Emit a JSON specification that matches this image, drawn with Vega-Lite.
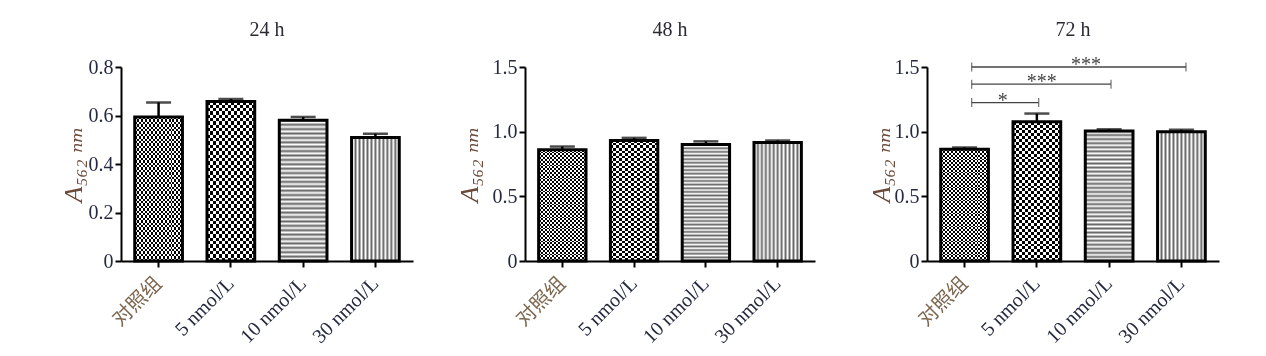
{
  "$schema": "https://vega.github.io/schema/vega-lite/v6.json",
  "background": "white",
  "padding": {"left": 60, "top": 20, "right": 10, "bottom": 4},
  "config": {
    "view": {"stroke": null},
    "font": "Liberation Serif",
    "axis": {
      "grid": false,
      "domainColor": "#000",
      "domainWidth": 2,
      "tickColor": "#000",
      "tickWidth": 2,
      "tickSize": 6,
      "labelFont": "Liberation Serif, Noto Sans CJK SC",
      "labelFontSize": 20,
      "labelColor": "#252a40",
      "titleFont": "Liberation Serif, DejaVu Serif, DejaVu Sans",
      "titleFontSize": 26,
      "titleFontWeight": "normal",
      "titleFontStyle": "italic",
      "titleColor": "#6b4a3a"
    },
    "title": {"font": "Liberation Serif", "fontSize": 20, "fontWeight": "normal", "color": "#2a2a35"}
  },
  "params": [
    {"name": "gFineV", "value": {"gradient": "linear", "x1": 0, "y1": 0, "x2": 1, "y2": 0, "stops": [
      {"offset": 0, "color": "#000"}, {"offset": 0.0417, "color": "#000"}, {"offset": 0.0417, "color": "#fff"}, {"offset": 0.0833, "color": "#fff"},
      {"offset": 0.0833, "color": "#000"}, {"offset": 0.125, "color": "#000"}, {"offset": 0.125, "color": "#fff"}, {"offset": 0.1667, "color": "#fff"},
      {"offset": 0.1667, "color": "#000"}, {"offset": 0.2083, "color": "#000"}, {"offset": 0.2083, "color": "#fff"}, {"offset": 0.25, "color": "#fff"},
      {"offset": 0.25, "color": "#000"}, {"offset": 0.2917, "color": "#000"}, {"offset": 0.2917, "color": "#fff"}, {"offset": 0.3333, "color": "#fff"},
      {"offset": 0.3333, "color": "#000"}, {"offset": 0.375, "color": "#000"}, {"offset": 0.375, "color": "#fff"}, {"offset": 0.4167, "color": "#fff"},
      {"offset": 0.4167, "color": "#000"}, {"offset": 0.4583, "color": "#000"}, {"offset": 0.4583, "color": "#fff"}, {"offset": 0.5, "color": "#fff"},
      {"offset": 0.5, "color": "#000"}, {"offset": 0.5417, "color": "#000"}, {"offset": 0.5417, "color": "#fff"}, {"offset": 0.5833, "color": "#fff"},
      {"offset": 0.5833, "color": "#000"}, {"offset": 0.625, "color": "#000"}, {"offset": 0.625, "color": "#fff"}, {"offset": 0.6667, "color": "#fff"},
      {"offset": 0.6667, "color": "#000"}, {"offset": 0.7083, "color": "#000"}, {"offset": 0.7083, "color": "#fff"}, {"offset": 0.75, "color": "#fff"},
      {"offset": 0.75, "color": "#000"}, {"offset": 0.7917, "color": "#000"}, {"offset": 0.7917, "color": "#fff"}, {"offset": 0.8333, "color": "#fff"},
      {"offset": 0.8333, "color": "#000"}, {"offset": 0.875, "color": "#000"}, {"offset": 0.875, "color": "#fff"}, {"offset": 0.9167, "color": "#fff"},
      {"offset": 0.9167, "color": "#000"}, {"offset": 0.9583, "color": "#000"}, {"offset": 0.9583, "color": "#fff"}, {"offset": 1, "color": "#fff"}]}},
    {"name": "gCoarseV", "value": {"gradient": "linear", "x1": 0, "y1": 0, "x2": 1, "y2": 0, "stops": [
      {"offset": 0, "color": "#000"}, {"offset": 0.0625, "color": "#000"}, {"offset": 0.0625, "color": "#fff"}, {"offset": 0.125, "color": "#fff"},
      {"offset": 0.125, "color": "#000"}, {"offset": 0.1875, "color": "#000"}, {"offset": 0.1875, "color": "#fff"}, {"offset": 0.25, "color": "#fff"},
      {"offset": 0.25, "color": "#000"}, {"offset": 0.3125, "color": "#000"}, {"offset": 0.3125, "color": "#fff"}, {"offset": 0.375, "color": "#fff"},
      {"offset": 0.375, "color": "#000"}, {"offset": 0.4375, "color": "#000"}, {"offset": 0.4375, "color": "#fff"}, {"offset": 0.5, "color": "#fff"},
      {"offset": 0.5, "color": "#000"}, {"offset": 0.5625, "color": "#000"}, {"offset": 0.5625, "color": "#fff"}, {"offset": 0.625, "color": "#fff"},
      {"offset": 0.625, "color": "#000"}, {"offset": 0.6875, "color": "#000"}, {"offset": 0.6875, "color": "#fff"}, {"offset": 0.75, "color": "#fff"},
      {"offset": 0.75, "color": "#000"}, {"offset": 0.8125, "color": "#000"}, {"offset": 0.8125, "color": "#fff"}, {"offset": 0.875, "color": "#fff"},
      {"offset": 0.875, "color": "#000"}, {"offset": 0.9375, "color": "#000"}, {"offset": 0.9375, "color": "#fff"}, {"offset": 1, "color": "#fff"}]}},
    {"name": "gLineV", "value": {"gradient": "linear", "x1": 0, "y1": 0, "x2": 1, "y2": 0, "stops": [
      {"offset": 0, "color": "#666"}, {"offset": 0.0417, "color": "#fff"}, {"offset": 0.0833, "color": "#666"}, {"offset": 0.125, "color": "#fff"}, {"offset": 0.1667, "color": "#666"}, {"offset": 0.2083, "color": "#fff"}, {"offset": 0.25, "color": "#666"}, {"offset": 0.2917, "color": "#fff"}, {"offset": 0.3333, "color": "#666"}, {"offset": 0.375, "color": "#fff"}, {"offset": 0.4167, "color": "#666"}, {"offset": 0.4583, "color": "#fff"}, {"offset": 0.5, "color": "#666"}, {"offset": 0.5417, "color": "#fff"}, {"offset": 0.5833, "color": "#666"}, {"offset": 0.625, "color": "#fff"}, {"offset": 0.6667, "color": "#666"}, {"offset": 0.7083, "color": "#fff"}, {"offset": 0.75, "color": "#666"}, {"offset": 0.7917, "color": "#fff"}, {"offset": 0.8333, "color": "#666"}, {"offset": 0.875, "color": "#fff"}, {"offset": 0.9167, "color": "#666"}, {"offset": 0.9583, "color": "#fff"}, {"offset": 1, "color": "#666"}]}},
    {"name": "gFineH", "value": {"gradient": "linear", "x1": 0, "y1": 0, "x2": 0, "y2": 1, "stops": [
      {"offset": 0, "color": "#000"}, {"offset": 0.0167, "color": "#000"}, {"offset": 0.0167, "color": "#fff"}, {"offset": 0.0333, "color": "#fff"},
      {"offset": 0.0333, "color": "#000"}, {"offset": 0.05, "color": "#000"}, {"offset": 0.05, "color": "#fff"}, {"offset": 0.0667, "color": "#fff"},
      {"offset": 0.0667, "color": "#000"}, {"offset": 0.0833, "color": "#000"}, {"offset": 0.0833, "color": "#fff"}, {"offset": 0.1, "color": "#fff"},
      {"offset": 0.1, "color": "#000"}, {"offset": 0.1167, "color": "#000"}, {"offset": 0.1167, "color": "#fff"}, {"offset": 0.1333, "color": "#fff"},
      {"offset": 0.1333, "color": "#000"}, {"offset": 0.15, "color": "#000"}, {"offset": 0.15, "color": "#fff"}, {"offset": 0.1667, "color": "#fff"},
      {"offset": 0.1667, "color": "#000"}, {"offset": 0.1833, "color": "#000"}, {"offset": 0.1833, "color": "#fff"}, {"offset": 0.2, "color": "#fff"},
      {"offset": 0.2, "color": "#000"}, {"offset": 0.2167, "color": "#000"}, {"offset": 0.2167, "color": "#fff"}, {"offset": 0.2333, "color": "#fff"},
      {"offset": 0.2333, "color": "#000"}, {"offset": 0.25, "color": "#000"}, {"offset": 0.25, "color": "#fff"}, {"offset": 0.2667, "color": "#fff"},
      {"offset": 0.2667, "color": "#000"}, {"offset": 0.2833, "color": "#000"}, {"offset": 0.2833, "color": "#fff"}, {"offset": 0.3, "color": "#fff"},
      {"offset": 0.3, "color": "#000"}, {"offset": 0.3167, "color": "#000"}, {"offset": 0.3167, "color": "#fff"}, {"offset": 0.3333, "color": "#fff"},
      {"offset": 0.3333, "color": "#000"}, {"offset": 0.35, "color": "#000"}, {"offset": 0.35, "color": "#fff"}, {"offset": 0.3667, "color": "#fff"},
      {"offset": 0.3667, "color": "#000"}, {"offset": 0.3833, "color": "#000"}, {"offset": 0.3833, "color": "#fff"}, {"offset": 0.4, "color": "#fff"},
      {"offset": 0.4, "color": "#000"}, {"offset": 0.4167, "color": "#000"}, {"offset": 0.4167, "color": "#fff"}, {"offset": 0.4333, "color": "#fff"},
      {"offset": 0.4333, "color": "#000"}, {"offset": 0.45, "color": "#000"}, {"offset": 0.45, "color": "#fff"}, {"offset": 0.4667, "color": "#fff"},
      {"offset": 0.4667, "color": "#000"}, {"offset": 0.4833, "color": "#000"}, {"offset": 0.4833, "color": "#fff"}, {"offset": 0.5, "color": "#fff"},
      {"offset": 0.5, "color": "#000"}, {"offset": 0.5167, "color": "#000"}, {"offset": 0.5167, "color": "#fff"}, {"offset": 0.5333, "color": "#fff"},
      {"offset": 0.5333, "color": "#000"}, {"offset": 0.55, "color": "#000"}, {"offset": 0.55, "color": "#fff"}, {"offset": 0.5667, "color": "#fff"},
      {"offset": 0.5667, "color": "#000"}, {"offset": 0.5833, "color": "#000"}, {"offset": 0.5833, "color": "#fff"}, {"offset": 0.6, "color": "#fff"},
      {"offset": 0.6, "color": "#000"}, {"offset": 0.6167, "color": "#000"}, {"offset": 0.6167, "color": "#fff"}, {"offset": 0.6333, "color": "#fff"},
      {"offset": 0.6333, "color": "#000"}, {"offset": 0.65, "color": "#000"}, {"offset": 0.65, "color": "#fff"}, {"offset": 0.6667, "color": "#fff"},
      {"offset": 0.6667, "color": "#000"}, {"offset": 0.6833, "color": "#000"}, {"offset": 0.6833, "color": "#fff"}, {"offset": 0.7, "color": "#fff"},
      {"offset": 0.7, "color": "#000"}, {"offset": 0.7167, "color": "#000"}, {"offset": 0.7167, "color": "#fff"}, {"offset": 0.7333, "color": "#fff"},
      {"offset": 0.7333, "color": "#000"}, {"offset": 0.75, "color": "#000"}, {"offset": 0.75, "color": "#fff"}, {"offset": 0.7667, "color": "#fff"},
      {"offset": 0.7667, "color": "#000"}, {"offset": 0.7833, "color": "#000"}, {"offset": 0.7833, "color": "#fff"}, {"offset": 0.8, "color": "#fff"},
      {"offset": 0.8, "color": "#000"}, {"offset": 0.8167, "color": "#000"}, {"offset": 0.8167, "color": "#fff"}, {"offset": 0.8333, "color": "#fff"},
      {"offset": 0.8333, "color": "#000"}, {"offset": 0.85, "color": "#000"}, {"offset": 0.85, "color": "#fff"}, {"offset": 0.8667, "color": "#fff"},
      {"offset": 0.8667, "color": "#000"}, {"offset": 0.8833, "color": "#000"}, {"offset": 0.8833, "color": "#fff"}, {"offset": 0.9, "color": "#fff"},
      {"offset": 0.9, "color": "#000"}, {"offset": 0.9167, "color": "#000"}, {"offset": 0.9167, "color": "#fff"}, {"offset": 0.9333, "color": "#fff"},
      {"offset": 0.9333, "color": "#000"}, {"offset": 0.95, "color": "#000"}, {"offset": 0.95, "color": "#fff"}, {"offset": 0.9667, "color": "#fff"},
      {"offset": 0.9667, "color": "#000"}, {"offset": 0.9833, "color": "#000"}, {"offset": 0.9833, "color": "#fff"}, {"offset": 1, "color": "#fff"}]}},
    {"name": "gCoarseH", "value": {"gradient": "linear", "x1": 0, "y1": 0, "x2": 0, "y2": 1, "stops": [
      {"offset": 0, "color": "#000"}, {"offset": 0.0208, "color": "#000"}, {"offset": 0.0208, "color": "#fff"}, {"offset": 0.0417, "color": "#fff"},
      {"offset": 0.0417, "color": "#000"}, {"offset": 0.0625, "color": "#000"}, {"offset": 0.0625, "color": "#fff"}, {"offset": 0.0833, "color": "#fff"},
      {"offset": 0.0833, "color": "#000"}, {"offset": 0.1042, "color": "#000"}, {"offset": 0.1042, "color": "#fff"}, {"offset": 0.125, "color": "#fff"},
      {"offset": 0.125, "color": "#000"}, {"offset": 0.1458, "color": "#000"}, {"offset": 0.1458, "color": "#fff"}, {"offset": 0.1667, "color": "#fff"},
      {"offset": 0.1667, "color": "#000"}, {"offset": 0.1875, "color": "#000"}, {"offset": 0.1875, "color": "#fff"}, {"offset": 0.2083, "color": "#fff"},
      {"offset": 0.2083, "color": "#000"}, {"offset": 0.2292, "color": "#000"}, {"offset": 0.2292, "color": "#fff"}, {"offset": 0.25, "color": "#fff"},
      {"offset": 0.25, "color": "#000"}, {"offset": 0.2708, "color": "#000"}, {"offset": 0.2708, "color": "#fff"}, {"offset": 0.2917, "color": "#fff"},
      {"offset": 0.2917, "color": "#000"}, {"offset": 0.3125, "color": "#000"}, {"offset": 0.3125, "color": "#fff"}, {"offset": 0.3333, "color": "#fff"},
      {"offset": 0.3333, "color": "#000"}, {"offset": 0.3542, "color": "#000"}, {"offset": 0.3542, "color": "#fff"}, {"offset": 0.375, "color": "#fff"},
      {"offset": 0.375, "color": "#000"}, {"offset": 0.3958, "color": "#000"}, {"offset": 0.3958, "color": "#fff"}, {"offset": 0.4167, "color": "#fff"},
      {"offset": 0.4167, "color": "#000"}, {"offset": 0.4375, "color": "#000"}, {"offset": 0.4375, "color": "#fff"}, {"offset": 0.4583, "color": "#fff"},
      {"offset": 0.4583, "color": "#000"}, {"offset": 0.4792, "color": "#000"}, {"offset": 0.4792, "color": "#fff"}, {"offset": 0.5, "color": "#fff"},
      {"offset": 0.5, "color": "#000"}, {"offset": 0.5208, "color": "#000"}, {"offset": 0.5208, "color": "#fff"}, {"offset": 0.5417, "color": "#fff"},
      {"offset": 0.5417, "color": "#000"}, {"offset": 0.5625, "color": "#000"}, {"offset": 0.5625, "color": "#fff"}, {"offset": 0.5833, "color": "#fff"},
      {"offset": 0.5833, "color": "#000"}, {"offset": 0.6042, "color": "#000"}, {"offset": 0.6042, "color": "#fff"}, {"offset": 0.625, "color": "#fff"},
      {"offset": 0.625, "color": "#000"}, {"offset": 0.6458, "color": "#000"}, {"offset": 0.6458, "color": "#fff"}, {"offset": 0.6667, "color": "#fff"},
      {"offset": 0.6667, "color": "#000"}, {"offset": 0.6875, "color": "#000"}, {"offset": 0.6875, "color": "#fff"}, {"offset": 0.7083, "color": "#fff"},
      {"offset": 0.7083, "color": "#000"}, {"offset": 0.7292, "color": "#000"}, {"offset": 0.7292, "color": "#fff"}, {"offset": 0.75, "color": "#fff"},
      {"offset": 0.75, "color": "#000"}, {"offset": 0.7708, "color": "#000"}, {"offset": 0.7708, "color": "#fff"}, {"offset": 0.7917, "color": "#fff"},
      {"offset": 0.7917, "color": "#000"}, {"offset": 0.8125, "color": "#000"}, {"offset": 0.8125, "color": "#fff"}, {"offset": 0.8333, "color": "#fff"},
      {"offset": 0.8333, "color": "#000"}, {"offset": 0.8542, "color": "#000"}, {"offset": 0.8542, "color": "#fff"}, {"offset": 0.875, "color": "#fff"},
      {"offset": 0.875, "color": "#000"}, {"offset": 0.8958, "color": "#000"}, {"offset": 0.8958, "color": "#fff"}, {"offset": 0.9167, "color": "#fff"},
      {"offset": 0.9167, "color": "#000"}, {"offset": 0.9375, "color": "#000"}, {"offset": 0.9375, "color": "#fff"}, {"offset": 0.9583, "color": "#fff"},
      {"offset": 0.9583, "color": "#000"}, {"offset": 0.9792, "color": "#000"}, {"offset": 0.9792, "color": "#fff"}, {"offset": 1, "color": "#fff"}]}},
    {"name": "gLineH", "value": {"gradient": "linear", "x1": 0, "y1": 0, "x2": 0, "y2": 1, "stops": [
      {"offset": 0, "color": "#666"}, {"offset": 0.0156, "color": "#fff"}, {"offset": 0.0313, "color": "#666"}, {"offset": 0.0469, "color": "#fff"}, {"offset": 0.0625, "color": "#666"}, {"offset": 0.0781, "color": "#fff"}, {"offset": 0.0938, "color": "#666"}, {"offset": 0.1094, "color": "#fff"}, {"offset": 0.125, "color": "#666"}, {"offset": 0.1406, "color": "#fff"}, {"offset": 0.1563, "color": "#666"}, {"offset": 0.1719, "color": "#fff"}, {"offset": 0.1875, "color": "#666"}, {"offset": 0.2031, "color": "#fff"}, {"offset": 0.2188, "color": "#666"}, {"offset": 0.2344, "color": "#fff"}, {"offset": 0.25, "color": "#666"}, {"offset": 0.2656, "color": "#fff"}, {"offset": 0.2813, "color": "#666"}, {"offset": 0.2969, "color": "#fff"}, {"offset": 0.3125, "color": "#666"}, {"offset": 0.3281, "color": "#fff"}, {"offset": 0.3438, "color": "#666"}, {"offset": 0.3594, "color": "#fff"}, {"offset": 0.375, "color": "#666"}, {"offset": 0.3906, "color": "#fff"}, {"offset": 0.4063, "color": "#666"}, {"offset": 0.4219, "color": "#fff"}, {"offset": 0.4375, "color": "#666"}, {"offset": 0.4531, "color": "#fff"}, {"offset": 0.4688, "color": "#666"}, {"offset": 0.4844, "color": "#fff"}, {"offset": 0.5, "color": "#666"}, {"offset": 0.5156, "color": "#fff"}, {"offset": 0.5313, "color": "#666"}, {"offset": 0.5469, "color": "#fff"}, {"offset": 0.5625, "color": "#666"}, {"offset": 0.5781, "color": "#fff"}, {"offset": 0.5938, "color": "#666"}, {"offset": 0.6094, "color": "#fff"}, {"offset": 0.625, "color": "#666"}, {"offset": 0.6406, "color": "#fff"}, {"offset": 0.6563, "color": "#666"}, {"offset": 0.6719, "color": "#fff"}, {"offset": 0.6875, "color": "#666"}, {"offset": 0.7031, "color": "#fff"}, {"offset": 0.7188, "color": "#666"}, {"offset": 0.7344, "color": "#fff"}, {"offset": 0.75, "color": "#666"}, {"offset": 0.7656, "color": "#fff"}, {"offset": 0.7813, "color": "#666"}, {"offset": 0.7969, "color": "#fff"}, {"offset": 0.8125, "color": "#666"}, {"offset": 0.8281, "color": "#fff"}, {"offset": 0.8438, "color": "#666"}, {"offset": 0.8594, "color": "#fff"}, {"offset": 0.875, "color": "#666"}, {"offset": 0.8906, "color": "#fff"}, {"offset": 0.9063, "color": "#666"}, {"offset": 0.9219, "color": "#fff"}, {"offset": 0.9375, "color": "#666"}, {"offset": 0.9531, "color": "#fff"}, {"offset": 0.9688, "color": "#666"}, {"offset": 0.9844, "color": "#fff"}, {"offset": 1, "color": "#666"}]}}
  ],
  "datasets": {
    "d24": [
      {"g": "对照组", "mean": 0.594, "upper": 0.654},
      {"g": "5 nmol/L", "mean": 0.658, "upper": 0.668},
      {"g": "10 nmol/L", "mean": 0.58, "upper": 0.594},
      {"g": "30 nmol/L", "mean": 0.509, "upper": 0.525}
    ],
    "d48": [
      {"g": "对照组", "mean": 0.86, "upper": 0.885},
      {"g": "5 nmol/L", "mean": 0.932, "upper": 0.952},
      {"g": "10 nmol/L", "mean": 0.9, "upper": 0.925},
      {"g": "30 nmol/L", "mean": 0.917, "upper": 0.932}
    ],
    "d72": [
      {"g": "对照组", "mean": 0.864, "upper": 0.878},
      {"g": "5 nmol/L", "mean": 1.077, "upper": 1.14},
      {"g": "10 nmol/L", "mean": 1.005, "upper": 1.018},
      {"g": "30 nmol/L", "mean": 1.0, "upper": 1.015}
    ],
    "sig": [
      {"i0": 0.098, "i1": 1.025, "y": 1.225, "mid": 0.527, "lab": "*"},
      {"i0": 0.098, "i1": 2.026, "y": 1.367, "mid": 1.067, "lab": "***"},
      {"i0": 0.098, "i1": 3.063, "y": 1.5, "mid": 1.68, "lab": "***"}
    ]
  },
  "bounds": "flush",
  "spacing": 112,
  "hconcat": [
    {
      "width": 292,
      "height": 194,
      "title": {"text": "24 h", "offset": 17},
      "data": {"name": "d24"},
      "encoding": {
        "x": {"field": "g", "type": "nominal", "sort": null, "scale": {"paddingInner": 0.34, "paddingOuter": 0.19},
          "axis": {"title": null, "labelAngle": -45, "labelPadding": 6, "labelOffset": -7, "labelColor": {"condition": {"test": "datum.value === '对照组'", "value": "#7d6750"}, "value": "#252a40"}}},
        "y": {"field": "mean", "type": "quantitative", "scale": {"domain": [0, 0.8], "nice": false},
          "axis": {"title": "A₅₆₂ ₙₘ", "values": [0, 0.2, 0.4, 0.6, 0.8], "labelExpr": "datum.value === 0 ? '0' : format(datum.value, '.1f')", "labelPadding": 2, "titlePadding": 2}}
      },
      "layer": [
        {"mark": {"type": "bar", "fill": {"expr": "datum.g === '对照组' ? gFineV : datum.g === '5 nmol/L' ? gCoarseV : datum.g === '10 nmol/L' ? gLineH : gLineV"}}},
        {"mark": {"type": "bar", "blend": "difference", "fill": {"expr": "datum.g === '对照组' ? gFineH : datum.g === '5 nmol/L' ? gCoarseH : '#000'"}}},
        {"mark": {"type": "bar", "fillOpacity": 0, "stroke": "#000", "strokeWidth": 3}},
        {"mark": {"type": "rule", "color": "#000", "strokeWidth": 2.5}, "encoding": {"y2": {"field": "upper"}}},
        {"mark": {"type": "tick", "orient": "horizontal", "color": "#000", "size": 25, "thickness": 2.5}, "encoding": {"y": {"field": "upper", "type": "quantitative", "title": "A₅₆₂ ₙₘ"}}}
      ]
    },
    {
      "width": 290,
      "height": 194,
      "title": {"text": "48 h", "offset": 17},
      "data": {"name": "d48"},
      "encoding": {
        "x": {"field": "g", "type": "nominal", "sort": null, "scale": {"paddingInner": 0.34, "paddingOuter": 0.19},
          "axis": {"title": null, "labelAngle": -45, "labelPadding": 6, "labelOffset": -7, "labelColor": {"condition": {"test": "datum.value === '对照组'", "value": "#7d6750"}, "value": "#252a40"}}},
        "y": {"field": "mean", "type": "quantitative", "scale": {"domain": [0, 1.5], "nice": false},
          "axis": {"title": "A₅₆₂ ₙₘ", "values": [0, 0.5, 1.0, 1.5], "labelExpr": "datum.value === 0 ? '0' : format(datum.value, '.1f')", "labelPadding": 2, "titlePadding": 10}}
      },
      "layer": [
        {"mark": {"type": "bar", "fill": {"expr": "datum.g === '对照组' ? gFineV : datum.g === '5 nmol/L' ? gCoarseV : datum.g === '10 nmol/L' ? gLineH : gLineV"}}},
        {"mark": {"type": "bar", "blend": "difference", "fill": {"expr": "datum.g === '对照组' ? gFineH : datum.g === '5 nmol/L' ? gCoarseH : '#000'"}}},
        {"mark": {"type": "bar", "fillOpacity": 0, "stroke": "#000", "strokeWidth": 3}},
        {"mark": {"type": "rule", "color": "#000", "strokeWidth": 2.5}, "encoding": {"y2": {"field": "upper"}}},
        {"mark": {"type": "tick", "orient": "horizontal", "color": "#000", "size": 25, "thickness": 2.5}, "encoding": {"y": {"field": "upper", "type": "quantitative", "title": "A₅₆₂ ₙₘ"}}}
      ]
    },
    {
      "width": 292,
      "height": 194,
      "title": {"text": "72 h", "offset": 15},
      "resolve": {"scale": {"x": "independent"}},
      "layer": [
        {
          "data": {"name": "d72"},
          "encoding": {
            "x": {"field": "g", "type": "nominal", "sort": null, "scale": {"paddingInner": 0.34, "paddingOuter": 0.19},
              "axis": {"title": null, "labelAngle": -45, "labelPadding": 6, "labelOffset": -7, "labelColor": {"condition": {"test": "datum.value === '对照组'", "value": "#7d6750"}, "value": "#252a40"}}},
            "y": {"field": "mean", "type": "quantitative", "scale": {"domain": [0, 1.5], "nice": false},
              "axis": {"title": "A₅₆₂ ₙₘ", "values": [0, 0.5, 1.0, 1.5], "labelExpr": "datum.value === 0 ? '0' : format(datum.value, '.1f')", "labelPadding": 2, "titlePadding": 0}}
          },
          "layer": [
            {"mark": {"type": "bar", "fill": {"expr": "datum.g === '对照组' ? gFineV : datum.g === '5 nmol/L' ? gCoarseV : datum.g === '10 nmol/L' ? gLineH : gLineV"}}},
            {"mark": {"type": "bar", "blend": "difference", "fill": {"expr": "datum.g === '对照组' ? gFineH : datum.g === '5 nmol/L' ? gCoarseH : '#000'"}}},
            {"mark": {"type": "bar", "fillOpacity": 0, "stroke": "#000", "strokeWidth": 3}},
            {"mark": {"type": "rule", "color": "#000", "strokeWidth": 2.5}, "encoding": {"y2": {"field": "upper"}}},
            {"mark": {"type": "tick", "orient": "horizontal", "color": "#000", "size": 25, "thickness": 2.5}, "encoding": {"y": {"field": "upper", "type": "quantitative", "title": "A₅₆₂ ₙₘ"}}}
          ]
        },
        {
          "data": {"name": "sig"},
          "encoding": {
            "x": {"field": "i0", "type": "quantitative", "scale": {"domain": [-0.52, 3.52], "nice": false, "zero": false}, "axis": null},
            "y": {"field": "y", "type": "quantitative", "title": "A₅₆₂ ₙₘ"}
          },
          "layer": [
            {"mark": {"type": "rule", "color": "#444", "strokeWidth": 1.3}, "encoding": {"x2": {"field": "i1"}}},
            {"mark": {"type": "tick", "orient": "vertical", "color": "#444", "size": 9, "thickness": 1.3}},
            {"mark": {"type": "tick", "orient": "vertical", "color": "#444", "size": 9, "thickness": 1.3}, "encoding": {"x": {"field": "i1", "type": "quantitative"}}},
            {"mark": {"type": "text", "color": "#444", "fontSize": 20, "font": "Liberation Serif", "baseline": "alphabetic", "dy": 4}, "encoding": {"x": {"field": "mid", "type": "quantitative"}, "text": {"field": "lab"}}}
          ]
        }
      ]
    }
  ]
}
